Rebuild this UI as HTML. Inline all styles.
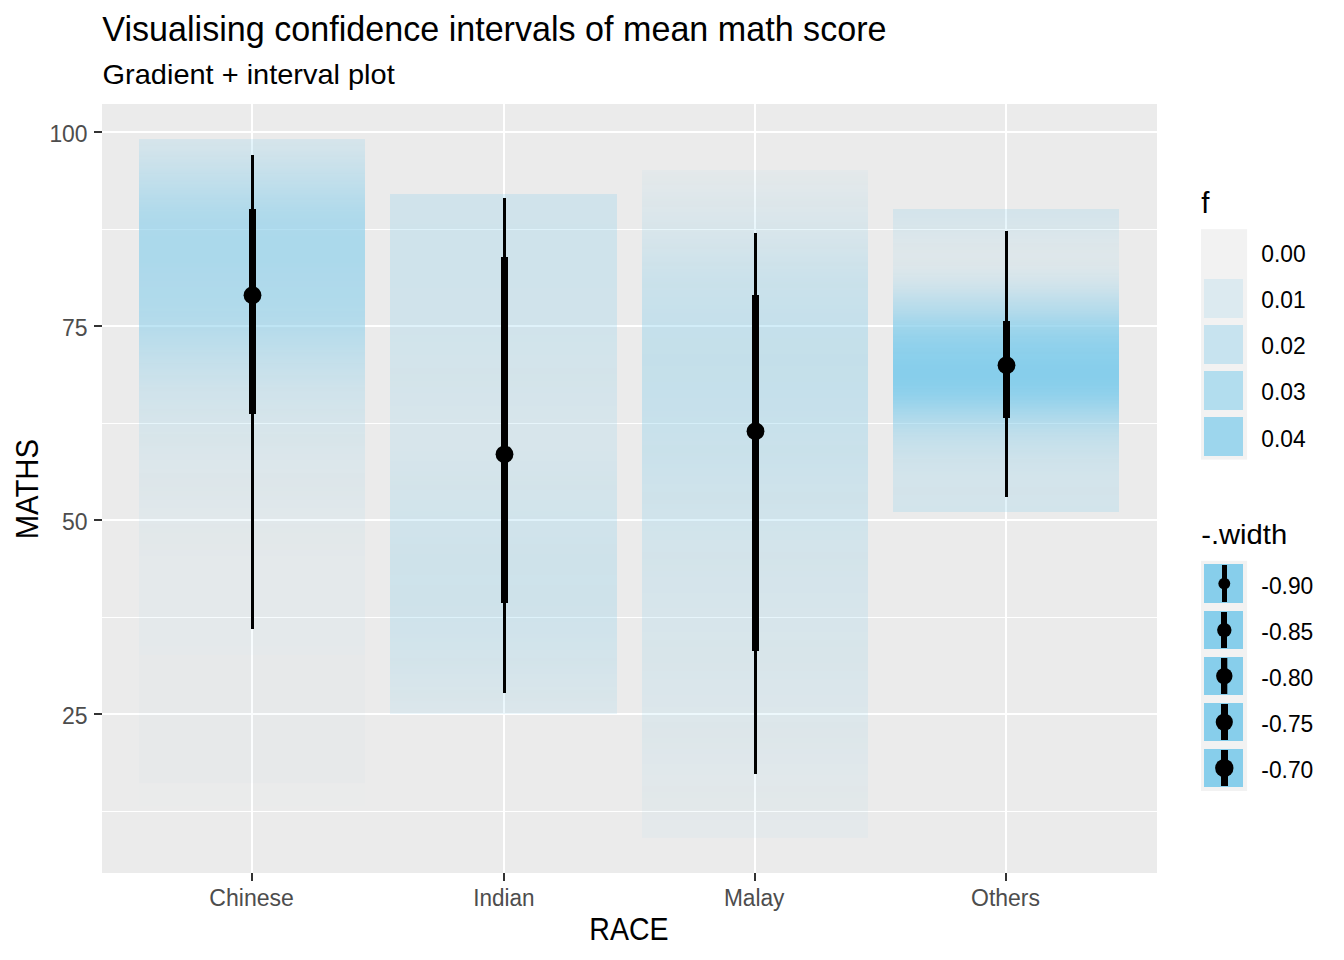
<!DOCTYPE html>
<html><head><meta charset="utf-8"><title>Gradient + interval plot</title>
<style>
html,body{margin:0;padding:0;background:#fff;}
body{width:1344px;height:960px;overflow:hidden;}
svg{display:block;position:absolute;left:0;top:0;}
text{font-family:"Liberation Sans",sans-serif;}
</style></head><body>
<svg width="1344" height="960" viewBox="0 0 1344 960">
<rect x="0" y="0" width="1344" height="960" fill="#FFFFFF"/>
<rect x="102" y="104" width="1055" height="769" fill="#EBEBEB"/>
<rect x="102" y="229" width="1055" height="1" fill="#FFFFFF" shape-rendering="crispEdges"/>
<rect x="102" y="423" width="1055" height="1" fill="#FFFFFF" shape-rendering="crispEdges"/>
<rect x="102" y="617" width="1055" height="1" fill="#FFFFFF" shape-rendering="crispEdges"/>
<rect x="102" y="811" width="1055" height="1" fill="#FFFFFF" shape-rendering="crispEdges"/>
<rect x="102" y="131" width="1055" height="2" fill="#FFFFFF"/>
<rect x="102" y="325" width="1055" height="2" fill="#FFFFFF"/>
<rect x="102" y="519" width="1055" height="2" fill="#FFFFFF"/>
<rect x="102" y="713" width="1055" height="2" fill="#FFFFFF"/>
<rect x="251" y="104" width="2" height="769" fill="#FFFFFF"/>
<rect x="503" y="104" width="2" height="769" fill="#FFFFFF"/>
<rect x="754" y="104" width="2" height="769" fill="#FFFFFF"/>
<rect x="1005" y="104" width="2" height="769" fill="#FFFFFF"/>
<g fill="#87CEEB" shape-rendering="crispEdges">
<rect x="139" y="139" width="226" height="1" fill-opacity=".2118"/>
<rect x="139" y="140" width="226" height="1" fill-opacity=".2157"/>
<rect x="139" y="141" width="226" height="1" fill-opacity=".2196"/>
<rect x="139" y="142" width="226" height="1" fill-opacity=".2235"/>
<rect x="139" y="143" width="226" height="1" fill-opacity=".2275"/>
<rect x="139" y="144" width="226" height="1" fill-opacity=".2314"/>
<rect x="139" y="145" width="226" height="1" fill-opacity=".2353"/>
<rect x="139" y="146" width="226" height="2" fill-opacity=".2392"/>
<rect x="139" y="148" width="226" height="1" fill-opacity=".2431"/>
<rect x="139" y="149" width="226" height="1" fill-opacity=".2471"/>
<rect x="139" y="150" width="226" height="1" fill-opacity=".251"/>
<rect x="139" y="151" width="226" height="1" fill-opacity=".2588"/>
<rect x="139" y="152" width="226" height="1" fill-opacity=".2627"/>
<rect x="139" y="153" width="226" height="1" fill-opacity=".2706"/>
<rect x="139" y="154" width="226" height="1" fill-opacity=".2745"/>
<rect x="139" y="155" width="226" height="1" fill-opacity=".2784"/>
<rect x="139" y="156" width="226" height="1" fill-opacity=".2863"/>
<rect x="139" y="157" width="226" height="1" fill-opacity=".2902"/>
<rect x="139" y="158" width="226" height="1" fill-opacity=".2941"/>
<rect x="139" y="159" width="226" height="1" fill-opacity=".302"/>
<rect x="139" y="160" width="226" height="1" fill-opacity=".3059"/>
<rect x="139" y="161" width="226" height="1" fill-opacity=".3098"/>
<rect x="139" y="162" width="226" height="1" fill-opacity=".3176"/>
<rect x="139" y="163" width="226" height="1" fill-opacity=".3216"/>
<rect x="139" y="164" width="226" height="1" fill-opacity=".3255"/>
<rect x="139" y="165" width="226" height="1" fill-opacity=".3333"/>
<rect x="139" y="166" width="226" height="1" fill-opacity=".3373"/>
<rect x="139" y="167" width="226" height="1" fill-opacity=".3451"/>
<rect x="139" y="168" width="226" height="1" fill-opacity=".349"/>
<rect x="139" y="169" width="226" height="1" fill-opacity=".3569"/>
<rect x="139" y="170" width="226" height="1" fill-opacity=".3608"/>
<rect x="139" y="171" width="226" height="1" fill-opacity=".3686"/>
<rect x="139" y="172" width="226" height="1" fill-opacity=".3725"/>
<rect x="139" y="173" width="226" height="1" fill-opacity=".3804"/>
<rect x="139" y="174" width="226" height="1" fill-opacity=".3843"/>
<rect x="139" y="175" width="226" height="1" fill-opacity=".3882"/>
<rect x="139" y="176" width="226" height="1" fill-opacity=".3961"/>
<rect x="139" y="177" width="226" height="1" fill-opacity=".4"/>
<rect x="139" y="178" width="226" height="1" fill-opacity=".4078"/>
<rect x="139" y="179" width="226" height="1" fill-opacity=".4118"/>
<rect x="139" y="180" width="226" height="1" fill-opacity=".4196"/>
<rect x="139" y="181" width="226" height="1" fill-opacity=".4235"/>
<rect x="139" y="182" width="226" height="1" fill-opacity=".4314"/>
<rect x="139" y="183" width="226" height="1" fill-opacity=".4353"/>
<rect x="139" y="184" width="226" height="1" fill-opacity=".4431"/>
<rect x="139" y="185" width="226" height="1" fill-opacity=".4471"/>
<rect x="139" y="186" width="226" height="1" fill-opacity=".451"/>
<rect x="139" y="187" width="226" height="1" fill-opacity=".4588"/>
<rect x="139" y="188" width="226" height="1" fill-opacity=".4627"/>
<rect x="139" y="189" width="226" height="1" fill-opacity=".4706"/>
<rect x="139" y="190" width="226" height="1" fill-opacity=".4745"/>
<rect x="139" y="191" width="226" height="1" fill-opacity=".4824"/>
<rect x="139" y="192" width="226" height="1" fill-opacity=".4863"/>
<rect x="139" y="193" width="226" height="1" fill-opacity=".4941"/>
<rect x="139" y="194" width="226" height="1" fill-opacity=".498"/>
<rect x="139" y="195" width="226" height="1" fill-opacity=".5059"/>
<rect x="139" y="196" width="226" height="1" fill-opacity=".5098"/>
<rect x="139" y="197" width="226" height="1" fill-opacity=".5176"/>
<rect x="139" y="198" width="226" height="1" fill-opacity=".5216"/>
<rect x="139" y="199" width="226" height="1" fill-opacity=".5255"/>
<rect x="139" y="200" width="226" height="1" fill-opacity=".5333"/>
<rect x="139" y="201" width="226" height="1" fill-opacity=".5373"/>
<rect x="139" y="202" width="226" height="1" fill-opacity=".5412"/>
<rect x="139" y="203" width="226" height="1" fill-opacity=".5451"/>
<rect x="139" y="204" width="226" height="1" fill-opacity=".549"/>
<rect x="139" y="205" width="226" height="1" fill-opacity=".5569"/>
<rect x="139" y="206" width="226" height="1" fill-opacity=".5608"/>
<rect x="139" y="207" width="226" height="1" fill-opacity=".5647"/>
<rect x="139" y="208" width="226" height="1" fill-opacity=".5686"/>
<rect x="139" y="209" width="226" height="1" fill-opacity=".5725"/>
<rect x="139" y="210" width="226" height="1" fill-opacity=".5765"/>
<rect x="139" y="211" width="226" height="1" fill-opacity=".5843"/>
<rect x="139" y="212" width="226" height="2" fill-opacity=".5882"/>
<rect x="139" y="214" width="226" height="1" fill-opacity=".5922"/>
<rect x="139" y="215" width="226" height="1" fill-opacity=".5961"/>
<rect x="139" y="216" width="226" height="2" fill-opacity=".6"/>
<rect x="139" y="218" width="226" height="1" fill-opacity=".6039"/>
<rect x="139" y="219" width="226" height="2" fill-opacity=".6078"/>
<rect x="139" y="221" width="226" height="1" fill-opacity=".6118"/>
<rect x="139" y="222" width="226" height="1" fill-opacity=".6157"/>
<rect x="139" y="223" width="226" height="2" fill-opacity=".6196"/>
<rect x="139" y="225" width="226" height="3" fill-opacity=".6235"/>
<rect x="139" y="228" width="226" height="3" fill-opacity=".6275"/>
<rect x="139" y="231" width="226" height="2" fill-opacity=".6314"/>
<rect x="139" y="233" width="226" height="3" fill-opacity=".6353"/>
<rect x="139" y="236" width="226" height="27" fill-opacity=".6392"/>
<rect x="139" y="263" width="226" height="2" fill-opacity=".6353"/>
<rect x="139" y="265" width="226" height="2" fill-opacity=".6314"/>
<rect x="139" y="267" width="226" height="1" fill-opacity=".6275"/>
<rect x="139" y="268" width="226" height="2" fill-opacity=".6235"/>
<rect x="139" y="270" width="226" height="2" fill-opacity=".6196"/>
<rect x="139" y="272" width="226" height="1" fill-opacity=".6157"/>
<rect x="139" y="273" width="226" height="2" fill-opacity=".6118"/>
<rect x="139" y="275" width="226" height="6" fill-opacity=".6078"/>
<rect x="139" y="281" width="226" height="6" fill-opacity=".6039"/>
<rect x="139" y="287" width="226" height="6" fill-opacity=".6"/>
<rect x="139" y="293" width="226" height="5" fill-opacity=".5961"/>
<rect x="139" y="298" width="226" height="6" fill-opacity=".5922"/>
<rect x="139" y="304" width="226" height="2" fill-opacity=".5882"/>
<rect x="139" y="306" width="226" height="2" fill-opacity=".5843"/>
<rect x="139" y="308" width="226" height="1" fill-opacity=".5804"/>
<rect x="139" y="309" width="226" height="2" fill-opacity=".5765"/>
<rect x="139" y="311" width="226" height="2" fill-opacity=".5725"/>
<rect x="139" y="313" width="226" height="2" fill-opacity=".5686"/>
<rect x="139" y="315" width="226" height="2" fill-opacity=".5647"/>
<rect x="139" y="317" width="226" height="1" fill-opacity=".5608"/>
<rect x="139" y="318" width="226" height="2" fill-opacity=".5569"/>
<rect x="139" y="320" width="226" height="1" fill-opacity=".5529"/>
<rect x="139" y="321" width="226" height="1" fill-opacity=".549"/>
<rect x="139" y="322" width="226" height="1" fill-opacity=".5451"/>
<rect x="139" y="323" width="226" height="2" fill-opacity=".5412"/>
<rect x="139" y="325" width="226" height="1" fill-opacity=".5373"/>
<rect x="139" y="326" width="226" height="1" fill-opacity=".5333"/>
<rect x="139" y="327" width="226" height="1" fill-opacity=".5294"/>
<rect x="139" y="328" width="226" height="2" fill-opacity=".5255"/>
<rect x="139" y="330" width="226" height="1" fill-opacity=".5216"/>
<rect x="139" y="331" width="226" height="1" fill-opacity=".5176"/>
<rect x="139" y="332" width="226" height="1" fill-opacity=".5137"/>
<rect x="139" y="333" width="226" height="1" fill-opacity=".5098"/>
<rect x="139" y="334" width="226" height="1" fill-opacity=".5059"/>
<rect x="139" y="335" width="226" height="1" fill-opacity=".502"/>
<rect x="139" y="336" width="226" height="1" fill-opacity=".498"/>
<rect x="139" y="337" width="226" height="1" fill-opacity=".4941"/>
<rect x="139" y="338" width="226" height="1" fill-opacity=".4902"/>
<rect x="139" y="339" width="226" height="1" fill-opacity=".4863"/>
<rect x="139" y="340" width="226" height="1" fill-opacity=".4824"/>
<rect x="139" y="341" width="226" height="1" fill-opacity=".4745"/>
<rect x="139" y="342" width="226" height="1" fill-opacity=".4706"/>
<rect x="139" y="343" width="226" height="1" fill-opacity=".4667"/>
<rect x="139" y="344" width="226" height="1" fill-opacity=".4627"/>
<rect x="139" y="345" width="226" height="1" fill-opacity=".4588"/>
<rect x="139" y="346" width="226" height="1" fill-opacity=".4549"/>
<rect x="139" y="347" width="226" height="1" fill-opacity=".451"/>
<rect x="139" y="348" width="226" height="1" fill-opacity=".4431"/>
<rect x="139" y="349" width="226" height="1" fill-opacity=".4392"/>
<rect x="139" y="350" width="226" height="1" fill-opacity=".4353"/>
<rect x="139" y="351" width="226" height="1" fill-opacity=".4314"/>
<rect x="139" y="352" width="226" height="1" fill-opacity=".4275"/>
<rect x="139" y="353" width="226" height="1" fill-opacity=".4235"/>
<rect x="139" y="354" width="226" height="1" fill-opacity=".4196"/>
<rect x="139" y="355" width="226" height="1" fill-opacity=".4157"/>
<rect x="139" y="356" width="226" height="1" fill-opacity=".4078"/>
<rect x="139" y="357" width="226" height="1" fill-opacity=".4039"/>
<rect x="139" y="358" width="226" height="1" fill-opacity=".4"/>
<rect x="139" y="359" width="226" height="1" fill-opacity=".3961"/>
<rect x="139" y="360" width="226" height="1" fill-opacity=".3922"/>
<rect x="139" y="361" width="226" height="1" fill-opacity=".3882"/>
<rect x="139" y="362" width="226" height="1" fill-opacity=".3843"/>
<rect x="139" y="363" width="226" height="1" fill-opacity=".3804"/>
<rect x="139" y="364" width="226" height="1" fill-opacity=".3765"/>
<rect x="139" y="365" width="226" height="1" fill-opacity=".3725"/>
<rect x="139" y="366" width="226" height="1" fill-opacity=".3686"/>
<rect x="139" y="367" width="226" height="1" fill-opacity=".3647"/>
<rect x="139" y="368" width="226" height="1" fill-opacity=".3608"/>
<rect x="139" y="369" width="226" height="1" fill-opacity=".3569"/>
<rect x="139" y="370" width="226" height="1" fill-opacity=".3529"/>
<rect x="139" y="371" width="226" height="1" fill-opacity=".349"/>
<rect x="139" y="372" width="226" height="2" fill-opacity=".3412"/>
<rect x="139" y="374" width="226" height="1" fill-opacity=".3373"/>
<rect x="139" y="375" width="226" height="1" fill-opacity=".3333"/>
<rect x="139" y="376" width="226" height="1" fill-opacity=".3294"/>
<rect x="139" y="377" width="226" height="1" fill-opacity=".3255"/>
<rect x="139" y="378" width="226" height="1" fill-opacity=".3216"/>
<rect x="139" y="379" width="226" height="1" fill-opacity=".3176"/>
<rect x="139" y="380" width="226" height="1" fill-opacity=".3137"/>
<rect x="139" y="381" width="226" height="1" fill-opacity=".3098"/>
<rect x="139" y="382" width="226" height="1" fill-opacity=".3059"/>
<rect x="139" y="383" width="226" height="1" fill-opacity=".302"/>
<rect x="139" y="384" width="226" height="1" fill-opacity=".298"/>
<rect x="139" y="385" width="226" height="1" fill-opacity=".2941"/>
<rect x="139" y="386" width="226" height="1" fill-opacity=".2902"/>
<rect x="139" y="387" width="226" height="1" fill-opacity=".2863"/>
<rect x="139" y="388" width="226" height="1" fill-opacity=".2824"/>
<rect x="139" y="389" width="226" height="2" fill-opacity=".2784"/>
<rect x="139" y="391" width="226" height="1" fill-opacity=".2745"/>
<rect x="139" y="392" width="226" height="2" fill-opacity=".2706"/>
<rect x="139" y="394" width="226" height="2" fill-opacity=".2667"/>
<rect x="139" y="396" width="226" height="2" fill-opacity=".2627"/>
<rect x="139" y="398" width="226" height="2" fill-opacity=".2588"/>
<rect x="139" y="400" width="226" height="2" fill-opacity=".2549"/>
<rect x="139" y="402" width="226" height="1" fill-opacity=".251"/>
<rect x="139" y="403" width="226" height="2" fill-opacity=".2471"/>
<rect x="139" y="405" width="226" height="2" fill-opacity=".2431"/>
<rect x="139" y="407" width="226" height="2" fill-opacity=".2392"/>
<rect x="139" y="409" width="226" height="2" fill-opacity=".2353"/>
<rect x="139" y="411" width="226" height="2" fill-opacity=".2314"/>
<rect x="139" y="413" width="226" height="2" fill-opacity=".2275"/>
<rect x="139" y="415" width="226" height="2" fill-opacity=".2235"/>
<rect x="139" y="417" width="226" height="2" fill-opacity=".2196"/>
<rect x="139" y="419" width="226" height="2" fill-opacity=".2157"/>
<rect x="139" y="421" width="226" height="2" fill-opacity=".2118"/>
<rect x="139" y="423" width="226" height="3" fill-opacity=".2078"/>
<rect x="139" y="426" width="226" height="2" fill-opacity=".2039"/>
<rect x="139" y="428" width="226" height="2" fill-opacity=".2"/>
<rect x="139" y="430" width="226" height="2" fill-opacity=".1961"/>
<rect x="139" y="432" width="226" height="2" fill-opacity=".1922"/>
<rect x="139" y="434" width="226" height="3" fill-opacity=".1882"/>
<rect x="139" y="437" width="226" height="3" fill-opacity=".1843"/>
<rect x="139" y="440" width="226" height="3" fill-opacity=".1804"/>
<rect x="139" y="443" width="226" height="3" fill-opacity=".1765"/>
<rect x="139" y="446" width="226" height="2" fill-opacity=".1725"/>
<rect x="139" y="448" width="226" height="3" fill-opacity=".1686"/>
<rect x="139" y="451" width="226" height="3" fill-opacity=".1647"/>
<rect x="139" y="454" width="226" height="3" fill-opacity=".1608"/>
<rect x="139" y="457" width="226" height="3" fill-opacity=".1569"/>
<rect x="139" y="460" width="226" height="5" fill-opacity=".1529"/>
<rect x="139" y="465" width="226" height="4" fill-opacity=".149"/>
<rect x="139" y="469" width="226" height="4" fill-opacity=".1451"/>
<rect x="139" y="473" width="226" height="5" fill-opacity=".1412"/>
<rect x="139" y="478" width="226" height="4" fill-opacity=".1373"/>
<rect x="139" y="482" width="226" height="5" fill-opacity=".1333"/>
<rect x="139" y="487" width="226" height="4" fill-opacity=".1294"/>
<rect x="139" y="491" width="226" height="5" fill-opacity=".1255"/>
<rect x="139" y="496" width="226" height="4" fill-opacity=".1216"/>
<rect x="139" y="500" width="226" height="4" fill-opacity=".1176"/>
<rect x="139" y="504" width="226" height="4" fill-opacity=".1137"/>
<rect x="139" y="508" width="226" height="4" fill-opacity=".1098"/>
<rect x="139" y="512" width="226" height="4" fill-opacity=".1059"/>
<rect x="139" y="516" width="226" height="4" fill-opacity=".102"/>
<rect x="139" y="520" width="226" height="4" fill-opacity=".098"/>
<rect x="139" y="524" width="226" height="4" fill-opacity=".0941"/>
<rect x="139" y="528" width="226" height="5" fill-opacity=".0902"/>
<rect x="139" y="533" width="226" height="6" fill-opacity=".0863"/>
<rect x="139" y="539" width="226" height="5" fill-opacity=".0824"/>
<rect x="139" y="544" width="226" height="6" fill-opacity=".0784"/>
<rect x="139" y="550" width="226" height="6" fill-opacity=".0745"/>
<rect x="139" y="556" width="226" height="15" fill-opacity=".0706"/>
<rect x="139" y="571" width="226" height="32" fill-opacity=".0667"/>
<rect x="139" y="603" width="226" height="43" fill-opacity=".0627"/>
<rect x="139" y="646" width="226" height="9" fill-opacity=".0588"/>
<rect x="139" y="655" width="226" height="43" fill-opacity=".0353"/>
<rect x="139" y="698" width="226" height="85" fill-opacity=".0314"/>
<rect x="139" y="783" width="226" height="1" fill-opacity=".0118"/>
<rect x="139" y="784" width="226" height="22" fill-opacity=".0078"/>
<rect x="139" y="806" width="226" height="21" fill-opacity=".0039"/>
</g>
<g fill="#87CEEB" shape-rendering="crispEdges">
<rect x="390" y="194" width="227" height="2" fill-opacity=".2588"/>
<rect x="390" y="196" width="227" height="9" fill-opacity=".2627"/>
<rect x="390" y="205" width="227" height="10" fill-opacity=".2667"/>
<rect x="390" y="215" width="227" height="9" fill-opacity=".2706"/>
<rect x="390" y="224" width="227" height="64" fill-opacity=".2745"/>
<rect x="390" y="288" width="227" height="13" fill-opacity=".2706"/>
<rect x="390" y="301" width="227" height="13" fill-opacity=".2667"/>
<rect x="390" y="314" width="227" height="13" fill-opacity=".2627"/>
<rect x="390" y="327" width="227" height="8" fill-opacity=".2588"/>
<rect x="390" y="335" width="227" height="7" fill-opacity=".2549"/>
<rect x="390" y="342" width="227" height="6" fill-opacity=".251"/>
<rect x="390" y="348" width="227" height="7" fill-opacity=".2471"/>
<rect x="390" y="355" width="227" height="6" fill-opacity=".2431"/>
<rect x="390" y="361" width="227" height="7" fill-opacity=".2392"/>
<rect x="390" y="368" width="227" height="6" fill-opacity=".2353"/>
<rect x="390" y="374" width="227" height="7" fill-opacity=".2314"/>
<rect x="390" y="381" width="227" height="6" fill-opacity=".2275"/>
<rect x="390" y="387" width="227" height="6" fill-opacity=".2235"/>
<rect x="390" y="393" width="227" height="7" fill-opacity=".2196"/>
<rect x="390" y="400" width="227" height="6" fill-opacity=".2157"/>
<rect x="390" y="406" width="227" height="6" fill-opacity=".2118"/>
<rect x="390" y="412" width="227" height="7" fill-opacity=".2078"/>
<rect x="390" y="419" width="227" height="32" fill-opacity=".2039"/>
<rect x="390" y="451" width="227" height="5" fill-opacity=".2078"/>
<rect x="390" y="456" width="227" height="5" fill-opacity=".2118"/>
<rect x="390" y="461" width="227" height="5" fill-opacity=".2157"/>
<rect x="390" y="466" width="227" height="5" fill-opacity=".2196"/>
<rect x="390" y="471" width="227" height="5" fill-opacity=".2235"/>
<rect x="390" y="476" width="227" height="5" fill-opacity=".2275"/>
<rect x="390" y="481" width="227" height="4" fill-opacity=".2314"/>
<rect x="390" y="485" width="227" height="5" fill-opacity=".2353"/>
<rect x="390" y="490" width="227" height="5" fill-opacity=".2392"/>
<rect x="390" y="495" width="227" height="5" fill-opacity=".2431"/>
<rect x="390" y="500" width="227" height="5" fill-opacity=".2471"/>
<rect x="390" y="505" width="227" height="6" fill-opacity=".251"/>
<rect x="390" y="511" width="227" height="5" fill-opacity=".2549"/>
<rect x="390" y="516" width="227" height="5" fill-opacity=".2588"/>
<rect x="390" y="521" width="227" height="5" fill-opacity=".2627"/>
<rect x="390" y="526" width="227" height="6" fill-opacity=".2667"/>
<rect x="390" y="532" width="227" height="5" fill-opacity=".2706"/>
<rect x="390" y="537" width="227" height="7" fill-opacity=".2745"/>
<rect x="390" y="544" width="227" height="10" fill-opacity=".2784"/>
<rect x="390" y="554" width="227" height="11" fill-opacity=".2824"/>
<rect x="390" y="565" width="227" height="10" fill-opacity=".2863"/>
<rect x="390" y="575" width="227" height="10" fill-opacity=".2902"/>
<rect x="390" y="585" width="227" height="10" fill-opacity=".2863"/>
<rect x="390" y="595" width="227" height="11" fill-opacity=".2824"/>
<rect x="390" y="606" width="227" height="10" fill-opacity=".2784"/>
<rect x="390" y="616" width="227" height="6" fill-opacity=".2745"/>
<rect x="390" y="622" width="227" height="4" fill-opacity=".2706"/>
<rect x="390" y="626" width="227" height="4" fill-opacity=".2667"/>
<rect x="390" y="630" width="227" height="4" fill-opacity=".2627"/>
<rect x="390" y="634" width="227" height="4" fill-opacity=".2588"/>
<rect x="390" y="638" width="227" height="4" fill-opacity=".2549"/>
<rect x="390" y="642" width="227" height="4" fill-opacity=".251"/>
<rect x="390" y="646" width="227" height="4" fill-opacity=".2471"/>
<rect x="390" y="650" width="227" height="4" fill-opacity=".2431"/>
<rect x="390" y="654" width="227" height="4" fill-opacity=".2392"/>
<rect x="390" y="658" width="227" height="3" fill-opacity=".2353"/>
<rect x="390" y="661" width="227" height="3" fill-opacity=".2314"/>
<rect x="390" y="664" width="227" height="2" fill-opacity=".2275"/>
<rect x="390" y="666" width="227" height="3" fill-opacity=".2235"/>
<rect x="390" y="669" width="227" height="3" fill-opacity=".2196"/>
<rect x="390" y="672" width="227" height="2" fill-opacity=".2157"/>
<rect x="390" y="674" width="227" height="3" fill-opacity=".2118"/>
<rect x="390" y="677" width="227" height="2" fill-opacity=".2078"/>
<rect x="390" y="679" width="227" height="3" fill-opacity=".2039"/>
<rect x="390" y="682" width="227" height="3" fill-opacity=".2"/>
<rect x="390" y="685" width="227" height="2" fill-opacity=".1961"/>
<rect x="390" y="687" width="227" height="3" fill-opacity=".1922"/>
<rect x="390" y="690" width="227" height="3" fill-opacity=".1882"/>
<rect x="390" y="693" width="227" height="2" fill-opacity=".1843"/>
<rect x="390" y="695" width="227" height="3" fill-opacity=".1804"/>
<rect x="390" y="698" width="227" height="3" fill-opacity=".1765"/>
<rect x="390" y="701" width="227" height="2" fill-opacity=".1725"/>
<rect x="390" y="703" width="227" height="3" fill-opacity=".1686"/>
<rect x="390" y="706" width="227" height="3" fill-opacity=".1647"/>
<rect x="390" y="709" width="227" height="2" fill-opacity=".1608"/>
<rect x="390" y="711" width="227" height="3" fill-opacity=".1569"/>
</g>
<g fill="#87CEEB" shape-rendering="crispEdges">
<rect x="642" y="170" width="226" height="2" fill-opacity=".0706"/>
<rect x="642" y="172" width="226" height="2" fill-opacity=".0745"/>
<rect x="642" y="174" width="226" height="2" fill-opacity=".0784"/>
<rect x="642" y="176" width="226" height="3" fill-opacity=".0824"/>
<rect x="642" y="179" width="226" height="2" fill-opacity=".0863"/>
<rect x="642" y="181" width="226" height="2" fill-opacity=".0902"/>
<rect x="642" y="183" width="226" height="2" fill-opacity=".0941"/>
<rect x="642" y="185" width="226" height="2" fill-opacity=".098"/>
<rect x="642" y="187" width="226" height="2" fill-opacity=".102"/>
<rect x="642" y="189" width="226" height="2" fill-opacity=".1059"/>
<rect x="642" y="191" width="226" height="1" fill-opacity=".1098"/>
<rect x="642" y="192" width="226" height="2" fill-opacity=".1137"/>
<rect x="642" y="194" width="226" height="2" fill-opacity=".1176"/>
<rect x="642" y="196" width="226" height="1" fill-opacity=".1216"/>
<rect x="642" y="197" width="226" height="2" fill-opacity=".1255"/>
<rect x="642" y="199" width="226" height="2" fill-opacity=".1294"/>
<rect x="642" y="201" width="226" height="2" fill-opacity=".1333"/>
<rect x="642" y="203" width="226" height="2" fill-opacity=".1373"/>
<rect x="642" y="205" width="226" height="2" fill-opacity=".1412"/>
<rect x="642" y="207" width="226" height="2" fill-opacity=".1451"/>
<rect x="642" y="209" width="226" height="1" fill-opacity=".149"/>
<rect x="642" y="210" width="226" height="2" fill-opacity=".1529"/>
<rect x="642" y="212" width="226" height="2" fill-opacity=".1569"/>
<rect x="642" y="214" width="226" height="2" fill-opacity=".1608"/>
<rect x="642" y="216" width="226" height="2" fill-opacity=".1647"/>
<rect x="642" y="218" width="226" height="2" fill-opacity=".1686"/>
<rect x="642" y="220" width="226" height="2" fill-opacity=".1725"/>
<rect x="642" y="222" width="226" height="2" fill-opacity=".1765"/>
<rect x="642" y="224" width="226" height="2" fill-opacity=".1804"/>
<rect x="642" y="226" width="226" height="2" fill-opacity=".1843"/>
<rect x="642" y="228" width="226" height="2" fill-opacity=".1882"/>
<rect x="642" y="230" width="226" height="2" fill-opacity=".1922"/>
<rect x="642" y="232" width="226" height="1" fill-opacity=".1961"/>
<rect x="642" y="233" width="226" height="2" fill-opacity=".2"/>
<rect x="642" y="235" width="226" height="1" fill-opacity=".2039"/>
<rect x="642" y="236" width="226" height="2" fill-opacity=".2078"/>
<rect x="642" y="238" width="226" height="1" fill-opacity=".2118"/>
<rect x="642" y="239" width="226" height="2" fill-opacity=".2157"/>
<rect x="642" y="241" width="226" height="2" fill-opacity=".2196"/>
<rect x="642" y="243" width="226" height="1" fill-opacity=".2235"/>
<rect x="642" y="244" width="226" height="2" fill-opacity=".2275"/>
<rect x="642" y="246" width="226" height="1" fill-opacity=".2314"/>
<rect x="642" y="247" width="226" height="2" fill-opacity=".2353"/>
<rect x="642" y="249" width="226" height="1" fill-opacity=".2392"/>
<rect x="642" y="250" width="226" height="2" fill-opacity=".2431"/>
<rect x="642" y="252" width="226" height="1" fill-opacity=".2471"/>
<rect x="642" y="253" width="226" height="1" fill-opacity=".251"/>
<rect x="642" y="254" width="226" height="2" fill-opacity=".2549"/>
<rect x="642" y="256" width="226" height="1" fill-opacity=".2588"/>
<rect x="642" y="257" width="226" height="1" fill-opacity=".2627"/>
<rect x="642" y="258" width="226" height="2" fill-opacity=".2667"/>
<rect x="642" y="260" width="226" height="1" fill-opacity=".2706"/>
<rect x="642" y="261" width="226" height="1" fill-opacity=".2745"/>
<rect x="642" y="262" width="226" height="1" fill-opacity=".2784"/>
<rect x="642" y="263" width="226" height="2" fill-opacity=".2824"/>
<rect x="642" y="265" width="226" height="1" fill-opacity=".2863"/>
<rect x="642" y="266" width="226" height="1" fill-opacity=".2902"/>
<rect x="642" y="267" width="226" height="2" fill-opacity=".2941"/>
<rect x="642" y="269" width="226" height="1" fill-opacity=".298"/>
<rect x="642" y="270" width="226" height="2" fill-opacity=".302"/>
<rect x="642" y="272" width="226" height="2" fill-opacity=".3059"/>
<rect x="642" y="274" width="226" height="2" fill-opacity=".3098"/>
<rect x="642" y="276" width="226" height="2" fill-opacity=".3137"/>
<rect x="642" y="278" width="226" height="2" fill-opacity=".3176"/>
<rect x="642" y="280" width="226" height="2" fill-opacity=".3216"/>
<rect x="642" y="282" width="226" height="2" fill-opacity=".3255"/>
<rect x="642" y="284" width="226" height="2" fill-opacity=".3294"/>
<rect x="642" y="286" width="226" height="2" fill-opacity=".3333"/>
<rect x="642" y="288" width="226" height="2" fill-opacity=".3373"/>
<rect x="642" y="290" width="226" height="3" fill-opacity=".3412"/>
<rect x="642" y="293" width="226" height="4" fill-opacity=".3451"/>
<rect x="642" y="297" width="226" height="4" fill-opacity=".349"/>
<rect x="642" y="301" width="226" height="4" fill-opacity=".3529"/>
<rect x="642" y="305" width="226" height="4" fill-opacity=".3569"/>
<rect x="642" y="309" width="226" height="4" fill-opacity=".3608"/>
<rect x="642" y="313" width="226" height="4" fill-opacity=".3647"/>
<rect x="642" y="317" width="226" height="5" fill-opacity=".3686"/>
<rect x="642" y="322" width="226" height="16" fill-opacity=".3725"/>
<rect x="642" y="338" width="226" height="16" fill-opacity=".3765"/>
<rect x="642" y="354" width="226" height="12" fill-opacity=".3804"/>
<rect x="642" y="366" width="226" height="16" fill-opacity=".3765"/>
<rect x="642" y="382" width="226" height="16" fill-opacity=".3725"/>
<rect x="642" y="398" width="226" height="7" fill-opacity=".3686"/>
<rect x="642" y="405" width="226" height="6" fill-opacity=".3647"/>
<rect x="642" y="411" width="226" height="6" fill-opacity=".3608"/>
<rect x="642" y="417" width="226" height="6" fill-opacity=".3569"/>
<rect x="642" y="423" width="226" height="6" fill-opacity=".3529"/>
<rect x="642" y="429" width="226" height="4" fill-opacity=".349"/>
<rect x="642" y="433" width="226" height="4" fill-opacity=".3451"/>
<rect x="642" y="437" width="226" height="4" fill-opacity=".3412"/>
<rect x="642" y="441" width="226" height="4" fill-opacity=".3373"/>
<rect x="642" y="445" width="226" height="4" fill-opacity=".3333"/>
<rect x="642" y="449" width="226" height="4" fill-opacity=".3294"/>
<rect x="642" y="453" width="226" height="3" fill-opacity=".3255"/>
<rect x="642" y="456" width="226" height="4" fill-opacity=".3216"/>
<rect x="642" y="460" width="226" height="4" fill-opacity=".3176"/>
<rect x="642" y="464" width="226" height="4" fill-opacity=".3137"/>
<rect x="642" y="468" width="226" height="4" fill-opacity=".3098"/>
<rect x="642" y="472" width="226" height="4" fill-opacity=".3059"/>
<rect x="642" y="476" width="226" height="4" fill-opacity=".302"/>
<rect x="642" y="480" width="226" height="4" fill-opacity=".298"/>
<rect x="642" y="484" width="226" height="4" fill-opacity=".2941"/>
<rect x="642" y="488" width="226" height="4" fill-opacity=".2902"/>
<rect x="642" y="492" width="226" height="4" fill-opacity=".2863"/>
<rect x="642" y="496" width="226" height="4" fill-opacity=".2824"/>
<rect x="642" y="500" width="226" height="4" fill-opacity=".2784"/>
<rect x="642" y="504" width="226" height="5" fill-opacity=".2745"/>
<rect x="642" y="509" width="226" height="4" fill-opacity=".2706"/>
<rect x="642" y="513" width="226" height="4" fill-opacity=".2667"/>
<rect x="642" y="517" width="226" height="5" fill-opacity=".2627"/>
<rect x="642" y="522" width="226" height="4" fill-opacity=".2588"/>
<rect x="642" y="526" width="226" height="5" fill-opacity=".2549"/>
<rect x="642" y="531" width="226" height="4" fill-opacity=".251"/>
<rect x="642" y="535" width="226" height="5" fill-opacity=".2471"/>
<rect x="642" y="540" width="226" height="6" fill-opacity=".2431"/>
<rect x="642" y="546" width="226" height="6" fill-opacity=".2392"/>
<rect x="642" y="552" width="226" height="7" fill-opacity=".2353"/>
<rect x="642" y="559" width="226" height="6" fill-opacity=".2314"/>
<rect x="642" y="565" width="226" height="6" fill-opacity=".2275"/>
<rect x="642" y="571" width="226" height="6" fill-opacity=".2235"/>
<rect x="642" y="577" width="226" height="8" fill-opacity=".2196"/>
<rect x="642" y="585" width="226" height="8" fill-opacity=".2157"/>
<rect x="642" y="593" width="226" height="7" fill-opacity=".2118"/>
<rect x="642" y="600" width="226" height="8" fill-opacity=".2078"/>
<rect x="642" y="608" width="226" height="8" fill-opacity=".2039"/>
<rect x="642" y="616" width="226" height="8" fill-opacity=".2"/>
<rect x="642" y="624" width="226" height="8" fill-opacity=".1961"/>
<rect x="642" y="632" width="226" height="8" fill-opacity=".1922"/>
<rect x="642" y="640" width="226" height="7" fill-opacity=".1882"/>
<rect x="642" y="647" width="226" height="8" fill-opacity=".1843"/>
<rect x="642" y="655" width="226" height="8" fill-opacity=".1804"/>
<rect x="642" y="663" width="226" height="8" fill-opacity=".1765"/>
<rect x="642" y="671" width="226" height="8" fill-opacity=".1725"/>
<rect x="642" y="679" width="226" height="8" fill-opacity=".1686"/>
<rect x="642" y="687" width="226" height="8" fill-opacity=".1647"/>
<rect x="642" y="695" width="226" height="7" fill-opacity=".1608"/>
<rect x="642" y="702" width="226" height="5" fill-opacity=".1569"/>
<rect x="642" y="707" width="226" height="5" fill-opacity=".1529"/>
<rect x="642" y="712" width="226" height="5" fill-opacity=".149"/>
<rect x="642" y="717" width="226" height="5" fill-opacity=".1451"/>
<rect x="642" y="722" width="226" height="6" fill-opacity=".1412"/>
<rect x="642" y="728" width="226" height="5" fill-opacity=".1373"/>
<rect x="642" y="733" width="226" height="5" fill-opacity=".1333"/>
<rect x="642" y="738" width="226" height="5" fill-opacity=".1294"/>
<rect x="642" y="743" width="226" height="6" fill-opacity=".1255"/>
<rect x="642" y="749" width="226" height="5" fill-opacity=".1216"/>
<rect x="642" y="754" width="226" height="5" fill-opacity=".1176"/>
<rect x="642" y="759" width="226" height="5" fill-opacity=".1137"/>
<rect x="642" y="764" width="226" height="6" fill-opacity=".1098"/>
<rect x="642" y="770" width="226" height="5" fill-opacity=".1059"/>
<rect x="642" y="775" width="226" height="5" fill-opacity=".102"/>
<rect x="642" y="780" width="226" height="6" fill-opacity=".098"/>
<rect x="642" y="786" width="226" height="6" fill-opacity=".0941"/>
<rect x="642" y="792" width="226" height="6" fill-opacity=".0902"/>
<rect x="642" y="798" width="226" height="6" fill-opacity=".0863"/>
<rect x="642" y="804" width="226" height="5" fill-opacity=".0824"/>
<rect x="642" y="809" width="226" height="6" fill-opacity=".0784"/>
<rect x="642" y="815" width="226" height="5" fill-opacity=".0745"/>
<rect x="642" y="820" width="226" height="6" fill-opacity=".0706"/>
<rect x="642" y="826" width="226" height="5" fill-opacity=".0667"/>
<rect x="642" y="831" width="226" height="6" fill-opacity=".0627"/>
<rect x="642" y="837" width="226" height="1" fill-opacity=".0588"/>
</g>
<g fill="#87CEEB" shape-rendering="crispEdges">
<rect x="893" y="209" width="226" height="2" fill-opacity=".2275"/>
<rect x="893" y="211" width="226" height="3" fill-opacity=".2235"/>
<rect x="893" y="214" width="226" height="2" fill-opacity=".2196"/>
<rect x="893" y="216" width="226" height="2" fill-opacity=".2157"/>
<rect x="893" y="218" width="226" height="2" fill-opacity=".2118"/>
<rect x="893" y="220" width="226" height="1" fill-opacity=".2078"/>
<rect x="893" y="221" width="226" height="2" fill-opacity=".2039"/>
<rect x="893" y="223" width="226" height="1" fill-opacity=".2"/>
<rect x="893" y="224" width="226" height="1" fill-opacity=".1961"/>
<rect x="893" y="225" width="226" height="2" fill-opacity=".1922"/>
<rect x="893" y="227" width="226" height="1" fill-opacity=".1882"/>
<rect x="893" y="228" width="226" height="1" fill-opacity=".1843"/>
<rect x="893" y="229" width="226" height="2" fill-opacity=".1804"/>
<rect x="893" y="231" width="226" height="1" fill-opacity=".1765"/>
<rect x="893" y="232" width="226" height="1" fill-opacity=".1725"/>
<rect x="893" y="233" width="226" height="1" fill-opacity=".1686"/>
<rect x="893" y="234" width="226" height="2" fill-opacity=".1647"/>
<rect x="893" y="236" width="226" height="1" fill-opacity=".1608"/>
<rect x="893" y="237" width="226" height="2" fill-opacity=".1569"/>
<rect x="893" y="239" width="226" height="1" fill-opacity=".1529"/>
<rect x="893" y="240" width="226" height="2" fill-opacity=".149"/>
<rect x="893" y="242" width="226" height="1" fill-opacity=".1451"/>
<rect x="893" y="243" width="226" height="2" fill-opacity=".1412"/>
<rect x="893" y="245" width="226" height="1" fill-opacity=".1373"/>
<rect x="893" y="246" width="226" height="1" fill-opacity=".1333"/>
<rect x="893" y="247" width="226" height="3" fill-opacity=".1294"/>
<rect x="893" y="250" width="226" height="3" fill-opacity=".1255"/>
<rect x="893" y="253" width="226" height="5" fill-opacity=".1216"/>
<rect x="893" y="258" width="226" height="2" fill-opacity=".1255"/>
<rect x="893" y="260" width="226" height="2" fill-opacity=".1294"/>
<rect x="893" y="262" width="226" height="2" fill-opacity=".1333"/>
<rect x="893" y="264" width="226" height="1" fill-opacity=".1373"/>
<rect x="893" y="265" width="226" height="1" fill-opacity=".1412"/>
<rect x="893" y="266" width="226" height="1" fill-opacity=".1451"/>
<rect x="893" y="267" width="226" height="1" fill-opacity=".149"/>
<rect x="893" y="268" width="226" height="1" fill-opacity=".1529"/>
<rect x="893" y="269" width="226" height="1" fill-opacity=".1608"/>
<rect x="893" y="270" width="226" height="1" fill-opacity=".1647"/>
<rect x="893" y="271" width="226" height="1" fill-opacity=".1686"/>
<rect x="893" y="272" width="226" height="1" fill-opacity=".1725"/>
<rect x="893" y="273" width="226" height="1" fill-opacity=".1804"/>
<rect x="893" y="274" width="226" height="1" fill-opacity=".1882"/>
<rect x="893" y="275" width="226" height="1" fill-opacity=".1922"/>
<rect x="893" y="276" width="226" height="1" fill-opacity=".2"/>
<rect x="893" y="277" width="226" height="1" fill-opacity=".2078"/>
<rect x="893" y="278" width="226" height="1" fill-opacity=".2157"/>
<rect x="893" y="279" width="226" height="1" fill-opacity=".2196"/>
<rect x="893" y="280" width="226" height="1" fill-opacity=".2275"/>
<rect x="893" y="281" width="226" height="1" fill-opacity=".2392"/>
<rect x="893" y="282" width="226" height="1" fill-opacity=".2471"/>
<rect x="893" y="283" width="226" height="1" fill-opacity=".2549"/>
<rect x="893" y="284" width="226" height="1" fill-opacity=".2627"/>
<rect x="893" y="285" width="226" height="1" fill-opacity=".2745"/>
<rect x="893" y="286" width="226" height="1" fill-opacity=".2824"/>
<rect x="893" y="287" width="226" height="1" fill-opacity=".2902"/>
<rect x="893" y="288" width="226" height="1" fill-opacity=".302"/>
<rect x="893" y="289" width="226" height="1" fill-opacity=".3137"/>
<rect x="893" y="290" width="226" height="1" fill-opacity=".3255"/>
<rect x="893" y="291" width="226" height="1" fill-opacity=".3373"/>
<rect x="893" y="292" width="226" height="1" fill-opacity=".349"/>
<rect x="893" y="293" width="226" height="1" fill-opacity=".3608"/>
<rect x="893" y="294" width="226" height="1" fill-opacity=".3725"/>
<rect x="893" y="295" width="226" height="1" fill-opacity=".3843"/>
<rect x="893" y="296" width="226" height="1" fill-opacity=".3961"/>
<rect x="893" y="297" width="226" height="1" fill-opacity=".4078"/>
<rect x="893" y="298" width="226" height="1" fill-opacity=".4196"/>
<rect x="893" y="299" width="226" height="1" fill-opacity=".4275"/>
<rect x="893" y="300" width="226" height="1" fill-opacity=".4392"/>
<rect x="893" y="301" width="226" height="1" fill-opacity=".451"/>
<rect x="893" y="302" width="226" height="1" fill-opacity=".4627"/>
<rect x="893" y="303" width="226" height="1" fill-opacity=".4745"/>
<rect x="893" y="304" width="226" height="1" fill-opacity=".4863"/>
<rect x="893" y="305" width="226" height="1" fill-opacity=".498"/>
<rect x="893" y="306" width="226" height="1" fill-opacity=".5098"/>
<rect x="893" y="307" width="226" height="1" fill-opacity=".5176"/>
<rect x="893" y="308" width="226" height="1" fill-opacity=".5294"/>
<rect x="893" y="309" width="226" height="1" fill-opacity=".5412"/>
<rect x="893" y="310" width="226" height="1" fill-opacity=".5529"/>
<rect x="893" y="311" width="226" height="1" fill-opacity=".5647"/>
<rect x="893" y="312" width="226" height="1" fill-opacity=".5765"/>
<rect x="893" y="313" width="226" height="1" fill-opacity=".5922"/>
<rect x="893" y="314" width="226" height="1" fill-opacity=".6039"/>
<rect x="893" y="315" width="226" height="1" fill-opacity=".6196"/>
<rect x="893" y="316" width="226" height="1" fill-opacity=".6314"/>
<rect x="893" y="317" width="226" height="1" fill-opacity=".6471"/>
<rect x="893" y="318" width="226" height="1" fill-opacity=".6588"/>
<rect x="893" y="319" width="226" height="1" fill-opacity=".6745"/>
<rect x="893" y="320" width="226" height="1" fill-opacity=".6863"/>
<rect x="893" y="321" width="226" height="1" fill-opacity=".698"/>
<rect x="893" y="322" width="226" height="1" fill-opacity=".7098"/>
<rect x="893" y="323" width="226" height="1" fill-opacity=".7176"/>
<rect x="893" y="324" width="226" height="1" fill-opacity=".7294"/>
<rect x="893" y="325" width="226" height="1" fill-opacity=".7412"/>
<rect x="893" y="326" width="226" height="1" fill-opacity=".7529"/>
<rect x="893" y="327" width="226" height="1" fill-opacity=".7647"/>
<rect x="893" y="328" width="226" height="1" fill-opacity=".7765"/>
<rect x="893" y="329" width="226" height="1" fill-opacity=".7843"/>
<rect x="893" y="330" width="226" height="1" fill-opacity=".7961"/>
<rect x="893" y="331" width="226" height="1" fill-opacity=".8039"/>
<rect x="893" y="332" width="226" height="1" fill-opacity=".8157"/>
<rect x="893" y="333" width="226" height="1" fill-opacity=".8235"/>
<rect x="893" y="334" width="226" height="1" fill-opacity=".8353"/>
<rect x="893" y="335" width="226" height="1" fill-opacity=".8431"/>
<rect x="893" y="336" width="226" height="1" fill-opacity=".8549"/>
<rect x="893" y="337" width="226" height="1" fill-opacity=".8588"/>
<rect x="893" y="338" width="226" height="1" fill-opacity=".8667"/>
<rect x="893" y="339" width="226" height="1" fill-opacity=".8745"/>
<rect x="893" y="340" width="226" height="1" fill-opacity=".8784"/>
<rect x="893" y="341" width="226" height="1" fill-opacity=".8863"/>
<rect x="893" y="342" width="226" height="1" fill-opacity=".8941"/>
<rect x="893" y="343" width="226" height="1" fill-opacity=".902"/>
<rect x="893" y="344" width="226" height="1" fill-opacity=".9059"/>
<rect x="893" y="345" width="226" height="1" fill-opacity=".9137"/>
<rect x="893" y="346" width="226" height="1" fill-opacity=".9176"/>
<rect x="893" y="347" width="226" height="1" fill-opacity=".9216"/>
<rect x="893" y="348" width="226" height="1" fill-opacity=".9294"/>
<rect x="893" y="349" width="226" height="1" fill-opacity=".9333"/>
<rect x="893" y="350" width="226" height="1" fill-opacity=".9373"/>
<rect x="893" y="351" width="226" height="1" fill-opacity=".9412"/>
<rect x="893" y="352" width="226" height="1" fill-opacity=".949"/>
<rect x="893" y="353" width="226" height="1" fill-opacity=".9529"/>
<rect x="893" y="354" width="226" height="1" fill-opacity=".9569"/>
<rect x="893" y="355" width="226" height="1" fill-opacity=".9608"/>
<rect x="893" y="356" width="226" height="1" fill-opacity=".9647"/>
<rect x="893" y="357" width="226" height="2" fill-opacity=".9686"/>
<rect x="893" y="359" width="226" height="1" fill-opacity=".9725"/>
<rect x="893" y="360" width="226" height="1" fill-opacity=".9765"/>
<rect x="893" y="361" width="226" height="1" fill-opacity=".9804"/>
<rect x="893" y="362" width="226" height="2" fill-opacity=".9843"/>
<rect x="893" y="364" width="226" height="1" fill-opacity=".9882"/>
<rect x="893" y="365" width="226" height="4" fill-opacity=".9922"/>
<rect x="893" y="369" width="226" height="4" fill-opacity=".9961"/>
<rect x="893" y="373" width="226" height="3" fill-opacity="1"/>
<rect x="893" y="376" width="226" height="2" fill-opacity=".9961"/>
<rect x="893" y="378" width="226" height="2" fill-opacity=".9922"/>
<rect x="893" y="380" width="226" height="2" fill-opacity=".9882"/>
<rect x="893" y="382" width="226" height="2" fill-opacity=".9843"/>
<rect x="893" y="384" width="226" height="1" fill-opacity=".9804"/>
<rect x="893" y="385" width="226" height="1" fill-opacity=".9765"/>
<rect x="893" y="386" width="226" height="1" fill-opacity=".9686"/>
<rect x="893" y="387" width="226" height="1" fill-opacity=".9608"/>
<rect x="893" y="388" width="226" height="1" fill-opacity=".9529"/>
<rect x="893" y="389" width="226" height="1" fill-opacity=".9451"/>
<rect x="893" y="390" width="226" height="1" fill-opacity=".9373"/>
<rect x="893" y="391" width="226" height="1" fill-opacity=".9294"/>
<rect x="893" y="392" width="226" height="1" fill-opacity=".9216"/>
<rect x="893" y="393" width="226" height="1" fill-opacity=".9137"/>
<rect x="893" y="394" width="226" height="1" fill-opacity=".9059"/>
<rect x="893" y="395" width="226" height="1" fill-opacity=".8941"/>
<rect x="893" y="396" width="226" height="1" fill-opacity=".8824"/>
<rect x="893" y="397" width="226" height="1" fill-opacity=".8706"/>
<rect x="893" y="398" width="226" height="1" fill-opacity=".8588"/>
<rect x="893" y="399" width="226" height="1" fill-opacity=".8471"/>
<rect x="893" y="400" width="226" height="1" fill-opacity=".8353"/>
<rect x="893" y="401" width="226" height="1" fill-opacity=".8235"/>
<rect x="893" y="402" width="226" height="1" fill-opacity=".8118"/>
<rect x="893" y="403" width="226" height="1" fill-opacity=".7961"/>
<rect x="893" y="404" width="226" height="1" fill-opacity=".7843"/>
<rect x="893" y="405" width="226" height="1" fill-opacity=".7725"/>
<rect x="893" y="406" width="226" height="1" fill-opacity=".7608"/>
<rect x="893" y="407" width="226" height="1" fill-opacity=".7451"/>
<rect x="893" y="408" width="226" height="1" fill-opacity=".7294"/>
<rect x="893" y="409" width="226" height="1" fill-opacity=".7176"/>
<rect x="893" y="410" width="226" height="1" fill-opacity=".702"/>
<rect x="893" y="411" width="226" height="1" fill-opacity=".6902"/>
<rect x="893" y="412" width="226" height="1" fill-opacity=".6745"/>
<rect x="893" y="413" width="226" height="1" fill-opacity=".6627"/>
<rect x="893" y="414" width="226" height="1" fill-opacity=".6471"/>
<rect x="893" y="415" width="226" height="1" fill-opacity=".6353"/>
<rect x="893" y="416" width="226" height="1" fill-opacity=".6235"/>
<rect x="893" y="417" width="226" height="1" fill-opacity=".6118"/>
<rect x="893" y="418" width="226" height="1" fill-opacity=".5961"/>
<rect x="893" y="419" width="226" height="1" fill-opacity=".5843"/>
<rect x="893" y="420" width="226" height="1" fill-opacity=".5725"/>
<rect x="893" y="421" width="226" height="1" fill-opacity=".5608"/>
<rect x="893" y="422" width="226" height="1" fill-opacity=".549"/>
<rect x="893" y="423" width="226" height="1" fill-opacity=".5373"/>
<rect x="893" y="424" width="226" height="1" fill-opacity=".5255"/>
<rect x="893" y="425" width="226" height="1" fill-opacity=".5137"/>
<rect x="893" y="426" width="226" height="1" fill-opacity=".5059"/>
<rect x="893" y="427" width="226" height="1" fill-opacity=".498"/>
<rect x="893" y="428" width="226" height="1" fill-opacity=".4902"/>
<rect x="893" y="429" width="226" height="1" fill-opacity=".4784"/>
<rect x="893" y="430" width="226" height="1" fill-opacity=".4706"/>
<rect x="893" y="431" width="226" height="1" fill-opacity=".4627"/>
<rect x="893" y="432" width="226" height="1" fill-opacity=".451"/>
<rect x="893" y="433" width="226" height="1" fill-opacity=".4431"/>
<rect x="893" y="434" width="226" height="1" fill-opacity=".4353"/>
<rect x="893" y="435" width="226" height="1" fill-opacity=".4275"/>
<rect x="893" y="436" width="226" height="1" fill-opacity=".4196"/>
<rect x="893" y="437" width="226" height="1" fill-opacity=".4118"/>
<rect x="893" y="438" width="226" height="1" fill-opacity=".4039"/>
<rect x="893" y="439" width="226" height="1" fill-opacity=".4"/>
<rect x="893" y="440" width="226" height="1" fill-opacity=".3922"/>
<rect x="893" y="441" width="226" height="1" fill-opacity=".3843"/>
<rect x="893" y="442" width="226" height="1" fill-opacity=".3765"/>
<rect x="893" y="443" width="226" height="1" fill-opacity=".3686"/>
<rect x="893" y="444" width="226" height="1" fill-opacity=".3647"/>
<rect x="893" y="445" width="226" height="1" fill-opacity=".3569"/>
<rect x="893" y="446" width="226" height="1" fill-opacity=".3529"/>
<rect x="893" y="447" width="226" height="1" fill-opacity=".349"/>
<rect x="893" y="448" width="226" height="1" fill-opacity=".3412"/>
<rect x="893" y="449" width="226" height="1" fill-opacity=".3373"/>
<rect x="893" y="450" width="226" height="1" fill-opacity=".3333"/>
<rect x="893" y="451" width="226" height="1" fill-opacity=".3294"/>
<rect x="893" y="452" width="226" height="1" fill-opacity=".3216"/>
<rect x="893" y="453" width="226" height="1" fill-opacity=".3176"/>
<rect x="893" y="454" width="226" height="1" fill-opacity=".3137"/>
<rect x="893" y="455" width="226" height="1" fill-opacity=".3059"/>
<rect x="893" y="456" width="226" height="1" fill-opacity=".302"/>
<rect x="893" y="457" width="226" height="1" fill-opacity=".298"/>
<rect x="893" y="458" width="226" height="1" fill-opacity=".2941"/>
<rect x="893" y="459" width="226" height="1" fill-opacity=".2863"/>
<rect x="893" y="460" width="226" height="2" fill-opacity=".2824"/>
<rect x="893" y="462" width="226" height="1" fill-opacity=".2784"/>
<rect x="893" y="463" width="226" height="2" fill-opacity=".2745"/>
<rect x="893" y="465" width="226" height="1" fill-opacity=".2706"/>
<rect x="893" y="466" width="226" height="2" fill-opacity=".2667"/>
<rect x="893" y="468" width="226" height="1" fill-opacity=".2627"/>
<rect x="893" y="469" width="226" height="2" fill-opacity=".2588"/>
<rect x="893" y="471" width="226" height="1" fill-opacity=".2549"/>
<rect x="893" y="472" width="226" height="1" fill-opacity=".251"/>
<rect x="893" y="473" width="226" height="2" fill-opacity=".2471"/>
<rect x="893" y="475" width="226" height="6" fill-opacity=".2431"/>
<rect x="893" y="481" width="226" height="6" fill-opacity=".2392"/>
<rect x="893" y="487" width="226" height="8" fill-opacity=".2353"/>
<rect x="893" y="495" width="226" height="6" fill-opacity=".2392"/>
<rect x="893" y="501" width="226" height="5" fill-opacity=".2431"/>
<rect x="893" y="506" width="226" height="5" fill-opacity=".2471"/>
<rect x="893" y="511" width="226" height="1" fill-opacity=".251"/>
</g>
<rect x="251.0" y="155" width="3" height="474" fill="#000"/>
<rect x="249.0" y="209" width="7" height="205" fill="#000"/>
<circle cx="252.5" cy="295.2" r="8.9" fill="#000"/>
<rect x="503.0" y="198" width="3" height="495" fill="#000"/>
<rect x="501.0" y="257" width="7" height="346" fill="#000"/>
<circle cx="504.5" cy="454.3" r="8.9" fill="#000"/>
<rect x="754.0" y="233" width="3" height="541" fill="#000"/>
<rect x="752.0" y="295" width="7" height="356" fill="#000"/>
<circle cx="755.5" cy="431.2" r="8.9" fill="#000"/>
<rect x="1005.0" y="231" width="3" height="266" fill="#000"/>
<rect x="1003.0" y="321" width="7" height="97" fill="#000"/>
<circle cx="1006.5" cy="365.2" r="8.9" fill="#000"/>
<rect x="94" y="131" width="8" height="2" fill="#333333"/>
<rect x="94" y="325" width="8" height="2" fill="#333333"/>
<rect x="94" y="519" width="8" height="2" fill="#333333"/>
<rect x="94" y="713" width="8" height="2" fill="#333333"/>
<rect x="251" y="873" width="2" height="8" fill="#333333"/>
<rect x="503" y="873" width="2" height="8" fill="#333333"/>
<rect x="754" y="873" width="2" height="8" fill="#333333"/>
<rect x="1005" y="873" width="2" height="8" fill="#333333"/>
<text x="87.6" y="141.9" font-size="23.47" fill="#4D4D4D" text-anchor="end" textLength="38.2" lengthAdjust="spacingAndGlyphs">100</text>
<text x="87.6" y="335.9" font-size="23.47" fill="#4D4D4D" text-anchor="end" textLength="25.6" lengthAdjust="spacingAndGlyphs">75</text>
<text x="87.6" y="529.9" font-size="23.47" fill="#4D4D4D" text-anchor="end" textLength="25.6" lengthAdjust="spacingAndGlyphs">50</text>
<text x="87.6" y="723.9" font-size="23.47" fill="#4D4D4D" text-anchor="end" textLength="25.6" lengthAdjust="spacingAndGlyphs">25</text>
<text x="251.6" y="905.9" font-size="23.47" fill="#4D4D4D" text-anchor="middle" textLength="84.6" lengthAdjust="spacingAndGlyphs">Chinese</text>
<text x="504.0" y="905.9" font-size="23.47" fill="#4D4D4D" text-anchor="middle" textLength="61.3" lengthAdjust="spacingAndGlyphs">Indian</text>
<text x="754.2" y="905.9" font-size="23.47" fill="#4D4D4D" text-anchor="middle" textLength="60.5" lengthAdjust="spacingAndGlyphs">Malay</text>
<text x="1005.5" y="905.9" font-size="23.47" fill="#4D4D4D" text-anchor="middle" textLength="69.0" lengthAdjust="spacingAndGlyphs">Others</text>
<text x="628.9" y="939.9" font-size="30.5" fill="#000" text-anchor="middle" textLength="79.2" lengthAdjust="spacingAndGlyphs">RACE</text>
<text transform="translate(37.9,489.2) rotate(-90)" font-size="30.5" fill="#000" text-anchor="middle" textLength="100.2" lengthAdjust="spacingAndGlyphs">MATHS</text>
<text x="102.3" y="40.8" font-size="34.5" fill="#000" text-anchor="start" textLength="784.2" lengthAdjust="spacingAndGlyphs">Visualising confidence intervals of mean math score</text>
<text x="102.6" y="84.2" font-size="28.3" fill="#000" text-anchor="start" textLength="292.1" lengthAdjust="spacingAndGlyphs">Gradient + interval plot</text>
<text x="1201.3" y="213" font-size="28.6" fill="#000" text-anchor="start" textLength="8.2" lengthAdjust="spacingAndGlyphs">f</text>
<rect x="1201" y="229.2" width="46.1" height="230.4" fill="#F2F2F2"/>
<text x="1261.3" y="262" font-size="23.47" fill="#000" text-anchor="start" textLength="44.4" lengthAdjust="spacingAndGlyphs">0.00</text>
<rect x="1204" y="279" width="39" height="39" fill="#87CEEB" fill-opacity="0.2"/>
<text x="1261.3" y="308" font-size="23.47" fill="#000" text-anchor="start" textLength="44.4" lengthAdjust="spacingAndGlyphs">0.01</text>
<rect x="1204" y="325" width="39" height="39" fill="#87CEEB" fill-opacity="0.4"/>
<text x="1261.3" y="354" font-size="23.47" fill="#000" text-anchor="start" textLength="44.4" lengthAdjust="spacingAndGlyphs">0.02</text>
<rect x="1204" y="371" width="39" height="39" fill="#87CEEB" fill-opacity="0.6"/>
<text x="1261.3" y="400" font-size="23.47" fill="#000" text-anchor="start" textLength="44.4" lengthAdjust="spacingAndGlyphs">0.03</text>
<rect x="1204" y="417" width="39" height="39" fill="#87CEEB" fill-opacity="0.8"/>
<text x="1261.3" y="447" font-size="23.47" fill="#000" text-anchor="start" textLength="44.4" lengthAdjust="spacingAndGlyphs">0.04</text>
<text x="1201.2" y="544" font-size="28.3" fill="#000" text-anchor="start" textLength="86.0" lengthAdjust="spacingAndGlyphs">-.width</text>
<rect x="1201" y="560.8" width="46.1" height="230.2" fill="#F2F2F2"/>
<rect x="1204" y="564" width="39" height="39" fill="#87CEEB"/>
<rect x="1222" y="565" width="5" height="37" fill="#000"/>
<circle cx="1224.3" cy="583.60" r="5.95" fill="#000"/>
<text x="1261.3" y="594" font-size="23.47" fill="#000" text-anchor="start" textLength="52.0" lengthAdjust="spacingAndGlyphs">-0.90</text>
<rect x="1204" y="611" width="39" height="38" fill="#87CEEB"/>
<rect x="1221" y="612" width="6" height="36" fill="#000"/>
<circle cx="1224.3" cy="630.10" r="7.2" fill="#000"/>
<text x="1261.3" y="640" font-size="23.47" fill="#000" text-anchor="start" textLength="52.0" lengthAdjust="spacingAndGlyphs">-0.85</text>
<rect x="1204" y="657" width="39" height="38" fill="#87CEEB"/>
<rect x="1221" y="658" width="6.2999999999999545" height="36" fill="#000"/>
<circle cx="1224.3" cy="676.10" r="8.2" fill="#000"/>
<text x="1261.3" y="686" font-size="23.47" fill="#000" text-anchor="start" textLength="52.0" lengthAdjust="spacingAndGlyphs">-0.80</text>
<rect x="1204" y="703" width="39" height="38" fill="#87CEEB"/>
<rect x="1221" y="704" width="7" height="36" fill="#000"/>
<circle cx="1224.3" cy="722.10" r="8.6" fill="#000"/>
<text x="1261.3" y="732" font-size="23.47" fill="#000" text-anchor="start" textLength="52.0" lengthAdjust="spacingAndGlyphs">-0.75</text>
<rect x="1204" y="749" width="39" height="38" fill="#87CEEB"/>
<rect x="1221" y="750" width="7" height="36" fill="#000"/>
<circle cx="1224.3" cy="768.10" r="9.2" fill="#000"/>
<text x="1261.3" y="778" font-size="23.47" fill="#000" text-anchor="start" textLength="52.0" lengthAdjust="spacingAndGlyphs">-0.70</text>
</svg>
</body></html>
